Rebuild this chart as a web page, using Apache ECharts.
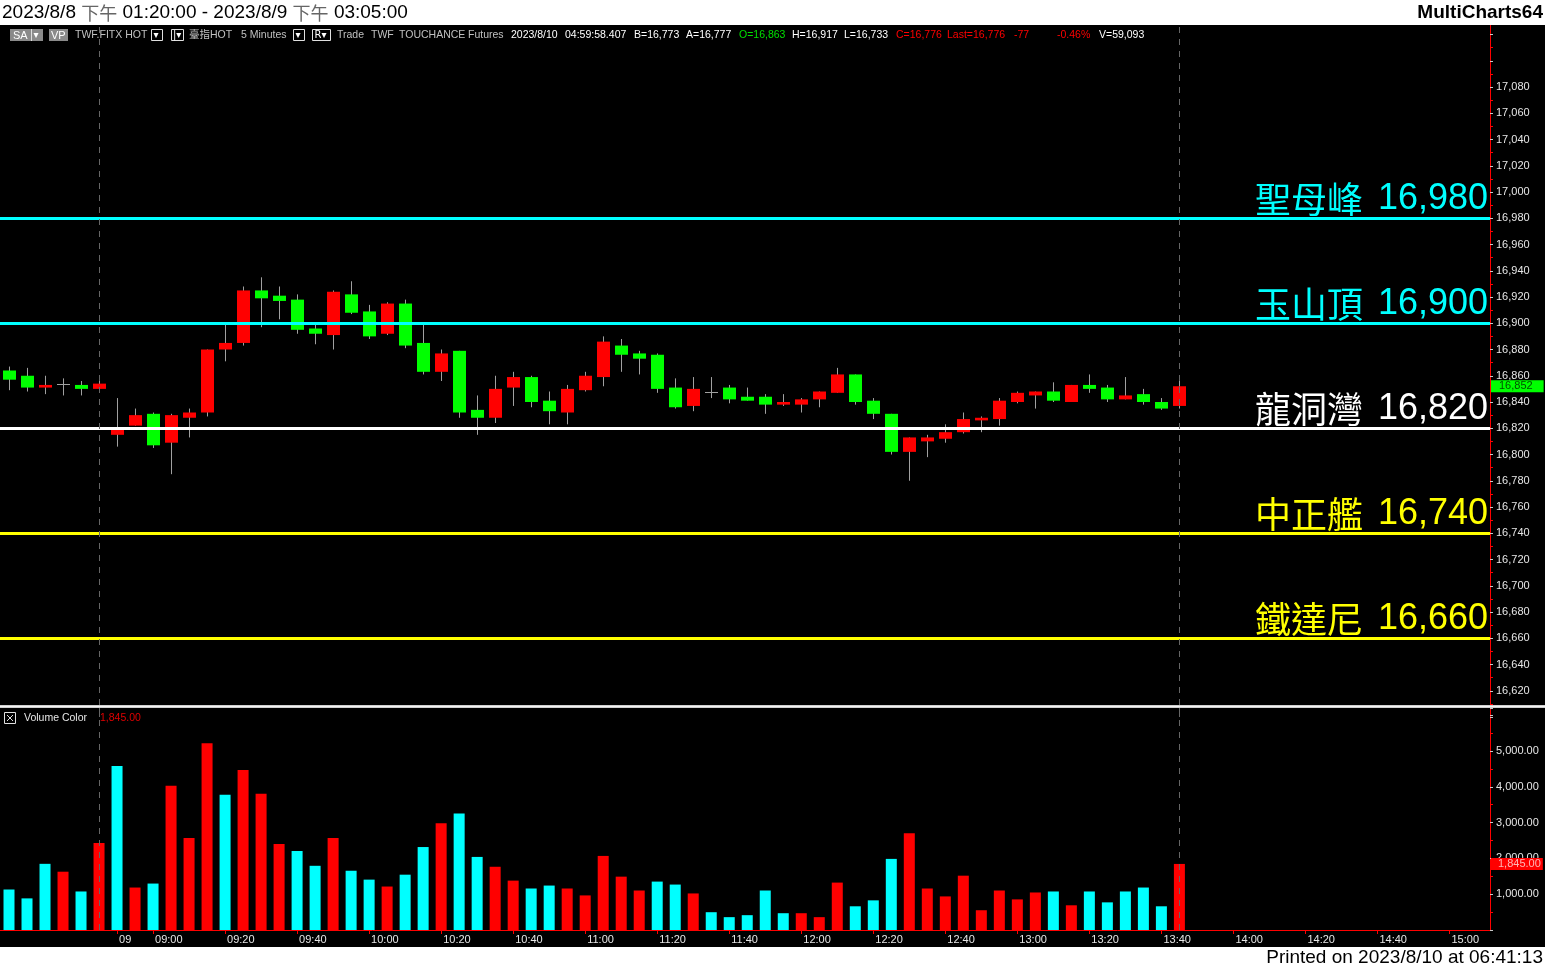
<!DOCTYPE html>
<html><head><meta charset="utf-8">
<script src="https://cdn.jsdelivr.net/npm/echarts@6/dist/echarts.min.js"></script>
<style>html,body{margin:0;padding:0;background:#000;overflow:hidden}#c{width:1545px;height:969px}</style>
</head><body><div id="c"></div>
<script>
// ---------- data ----------
const open  = [16864,16860,16851,16854,16853,16850,16815,16822,16831,16809,16828,16832,16880,16885,16925,16921,16918,16896,16891,16922,16909,16892,16915,16885,16863,16879,16834,16828,16851,16859,16841,16832,16849,16859,16883,16877,16876,16851,16837,16848,16851,16844,16844,16838,16838,16842,16847,16861,16841,16831,16802,16810,16812,16817,16826,16827,16840,16845,16848,16840,16853,16851,16842,16846,16840,16837];
const high  = [16867,16866,16860,16858,16856,16858,16843,16835,16832,16831,16835,16880,16899,16928,16935,16928,16922,16900,16925,16932,16914,16916,16918,16899,16880,16879,16845,16860,16863,16860,16848,16853,16863,16890,16888,16879,16877,16858,16859,16859,16853,16851,16846,16846,16843,16848,16866,16861,16843,16831,16813,16815,16823,16832,16829,16843,16848,16848,16855,16853,16861,16853,16859,16850,16843,16859];
const low   = [16849,16848,16846,16845,16845,16847,16806,16822,16805,16785,16813,16829,16871,16883,16897,16903,16892,16884,16880,16907,16888,16891,16881,16861,16856,16828,16815,16824,16837,16836,16823,16823,16848,16852,16863,16861,16847,16835,16833,16843,16839,16841,16831,16837,16832,16836,16847,16838,16827,16800,16780,16798,16809,16816,16817,16822,16839,16835,16840,16840,16847,16840,16842,16838,16834,16835];
const close = [16857,16851,16853,16854,16850,16854,16819,16830,16807,16830,16832,16880,16885,16925,16919,16917,16895,16892,16924,16908,16890,16915,16883,16863,16877,16832,16828,16850,16859,16840,16833,16850,16860,16886,16876,16873,16850,16836,16850,16848,16842,16841,16838,16840,16842,16848,16861,16840,16831,16802,16813,16813,16817,16827,16828,16841,16847,16848,16841,16853,16850,16842,16845,16840,16835,16852];
const volume = [1131,883,1848,1628,1076,2428,4579,1186,1297,4028,2566,5214,3779,4469,3807,2400,2207,1793,2566,1655,1407,1214,1545,2317,2979,3255,2041,1766,1379,1159,1241,1159,966,2069,1490,1103,1352,1269,1021,497,359,414,1103,469,469,359,1324,662,828,1986,2703,1159,938,1517,552,1103,855,1048,1076,690,1076,772,1076,1186,662,1845];
// 1 = up volume (red), -1 = down volume (cyan)
const volDir = [-1,-1,-1,1,-1,1,-1,1,-1,1, 1,1,-1,1,1,1,-1,-1,1,-1, -1,1,-1,-1,1,-1,-1,1,1,-1, -1,1,1,1,1,1,-1,-1,1,-1, -1,-1,-1,-1,1,1,1,-1,-1,-1, 1,1,1,1,1,1,1,1,-1,1, -1,-1,-1,-1,-1,1];
const lastPrice = 16852;
const levelNames  = ['聖母峰','玉山頂','龍洞灣','中正艦','鐵達尼'];
const levelValues = [16980,16900,16820,16740,16660];
// time axis: bar index of each tick and its text
const tickIndex = [6,8,12,16,20,24,28,32,36,40,44,48,52,56,60,64,68,72,76,80];
const tickText  = ['09','09:00','09:20','09:40','10:00','10:20','10:40','11:00','11:20','11:40','12:00','12:20','12:40','13:00','13:20','13:40','14:00','14:20','14:40','15:00'];
const sessionBreakIndex = 5;   // last bar of previous session
const currentBarIndex = 65;    // last bar

// ---------- style ----------
const UP = '#ff0000', DOWN = '#00ff00', WICK = '#a0a0a0';
const VUP = '#ff0000', VDOWN = '#00ffff';
const levelColors = ['#00ffff','#00ffff','#ffffff','#ffff00','#ffff00'];
const AX = '#ff0000', LBL = '#e6e6e6';
const fmt0 = v => Number(v).toLocaleString('en-US');
const fmt2 = v => Number(v).toLocaleString('en-US',{minimumFractionDigits:2,maximumFractionDigits:2});
const HIDDEN_LINE = {color:'rgba(0,0,0,0)', width:0};

const chart = echarts.init(document.getElementById('c'), null, {renderer:'canvas'});

function renderCandle(params, api){
  const i = api.value(0), o = api.value(1), c = api.value(2), l = api.value(3), h = api.value(4);
  const po = api.coord([i,o]), pc = api.coord([i,c]), pl = api.coord([i,l]), ph = api.coord([i,h]);
  const bw = Math.round(api.size([1,0])[0]*0.72);
  const cx = Math.floor(po[0]) + 0.5;
  const top = Math.min(po[1],pc[1]), bot = Math.max(po[1],pc[1]);
  const children = [{type:'line', shape:{x1:cx,y1:ph[1],x2:cx,y2:pl[1]}, style:{stroke:WICK,lineWidth:1}}];
  if (c === o) {
    const yy = Math.round(top)+0.5;
    children.push({type:'line', shape:{x1:cx-bw/2,y1:yy,x2:cx+bw/2,y2:yy}, style:{stroke:WICK,lineWidth:1}});
  } else {
    children.push({type:'rect', shape:{x:cx-bw/2, y:top, width:bw, height:Math.max(bot-top,1)}, style:{fill: c>o?UP:DOWN}});
  }
  return {type:'group', children};
}

const levelLines = levelValues.map((v,i)=>({
  yAxis: v,
  lineStyle:{color:levelColors[i], width:3, type:'solid'},
  label:{show:true, position:'insideEndTop', distance:[2,-1],
    formatter: () => '{n|'+levelNames[i]+'}{v|'+fmt0(v)+'}',
    rich:{
      n:{fontFamily:'Noto Sans CJK TC', fontSize:36, color:levelColors[i], lineHeight:40, padding:[0,15,0,0]},
      v:{fontFamily:'Liberation Sans', fontSize:36, color:levelColors[i], lineHeight:40}
    }}
}));

const vDash = (idx) => ({xAxis: idx, lineStyle:{color:'#666', width:1, type:[6,6]}, label:{show:false}});

const yAxisCommon = {
  type:'value', position:'right', splitLine:{show:false},
  axisLine:{show:true, onZero:false, lineStyle:{color:AX, width:1}},
  axisTick:{show:true, length:3, lineStyle:{color:'#c8c8c8'}},
  minorTick:{show:true, splitNumber:2, length:3, lineStyle:{color:AX}}
};

const option = {
  backgroundColor:'#000',
  animation:false,
  grid:[
    {left:0, top:8.25, width:1490, height:708.75},
    {left:0, top:708, width:1490, height:222}
  ],
  xAxis:[
    {type:'value', gridIndex:0, min:-0.5, max:82.25, show:false, splitLine:{show:false}},
    {type:'value', gridIndex:1, min:-0.5, max:82.25, splitLine:{show:false},
      axisLine:{show:true, onZero:false, lineStyle:{color:AX, width:1}},
      axisTick:{show:true, customValues:tickIndex, length:4, lineStyle:{color:AX}},
      axisLabel:{show:true, customValues:tickIndex, color:LBL, fontSize:11, fontFamily:'Liberation Sans',
        align:'left', margin:4, padding:[0,0,0,2],
        formatter:(v)=>{const k=tickIndex.indexOf(Math.round(v)); return k>=0?tickText[k]:'';}}}
  ],
  yAxis:[
    Object.assign({}, yAxisCommon, {gridIndex:0, min:16600, max:17140, interval:20,
      axisLabel:{color:LBL, fontSize:11, fontFamily:'Liberation Sans', margin:6,
        formatter:(v)=> (v<16620||v>17080)?'':fmt0(v)}}),
    Object.assign({}, yAxisCommon, {gridIndex:1, min:0, max:6200, interval:1000,
      axisLabel:{color:LBL, fontSize:11, fontFamily:'Liberation Sans', margin:6,
        formatter:(v)=> (v<=0||v>5000)?'':fmt2(v)}})
  ],
  series:[
    {type:'custom', xAxisIndex:0, yAxisIndex:0, renderItem:renderCandle,
      encode:{x:0, y:[1,2,3,4]},
      data: open.map((o,i)=>[i,o,close[i],low[i],high[i]]),
      markLine:{silent:true, symbol:'none', animation:false,
        data: levelLines.concat([
          vDash(sessionBreakIndex), vDash(currentBarIndex),
          {yAxis:lastPrice, lineStyle:HIDDEN_LINE,
            label:{show:true, position:'end', distance:1, formatter:()=>fmt0(lastPrice),
              backgroundColor:'#00ff00', color:'#005000', fontSize:11, fontFamily:'Liberation Sans',
              padding:[1,11,0,8]}}
        ])}
    },
    {type:'bar', xAxisIndex:1, yAxisIndex:1, barWidth:11,
      data: volume.map((v,i)=>({value:[i,v], itemStyle:{color: volDir[i]>0?VUP:VDOWN}})),
      markLine:{silent:true, symbol:'none', animation:false,
        data:[vDash(sessionBreakIndex), vDash(currentBarIndex),
          {yAxis:volume[volume.length-1], lineStyle:HIDDEN_LINE,
            label:{show:true, position:'end', distance:1, formatter:()=>fmt2(volume[volume.length-1]),
              backgroundColor:'#ff0000', color:'#ffb4b4', fontSize:11, fontFamily:'Liberation Sans',
              padding:[1,2,0,7]}}]}
    }
  ],
  graphic:[
    // title bar
    {type:'rect', z:100, shape:{x:0,y:0,width:1545,height:25}, style:{fill:'#fff'}},
    {type:'text', z:101, x:2, y:13, style:{text:'2023/8/8 {g|下午} 01:20:00 - 2023/8/9 {g|下午} 03:05:00',
      font:'19px "Liberation Sans"', fill:'#000', verticalAlign:'middle',
      rich:{g:{fontFamily:'Noto Sans CJK TC', fontSize:18, fill:'#666'}}}},
    {type:'text', z:101, x:1543, y:13, style:{text:'MultiCharts64', font:'bold 19px "Liberation Sans"', fill:'#000', align:'right', verticalAlign:'middle'}},
    // bottom strip
    {type:'rect', z:100, shape:{x:0,y:947,width:1545,height:22}, style:{fill:'#fff'}},
    {type:'text', z:101, x:1543, y:958, style:{text:'Printed on 2023/8/10 at 06:41:13', font:'19px "Liberation Sans"', fill:'#000', align:'right', verticalAlign:'middle'}},
    // pane separator
    {type:'rect', z:50, shape:{x:0,y:705,width:1545,height:3}, style:{fill:'#d0d0d0'}},
    {type:'rect', z:51, shape:{x:0,y:706,width:1545,height:1}, style:{fill:'#f4f4f4'}},
    // toolbar
    {type:'rect', z:60, shape:{x:10,y:29,width:33,height:12}, style:{fill:'#8a8a8a'}},
    {type:'line', z:61, shape:{x1:31.5,y1:29,x2:31.5,y2:41}, style:{stroke:'#dcdcdc'}},
    {type:'text', z:61, x:13, y:35.5, style:{text:'SA', font:'11px "Liberation Sans"', fill:'#fff', verticalAlign:'middle'}},
    {type:'text', z:61, x:33.5, y:35.5, style:{text:'▾', font:'10px "DejaVu Sans"', fill:'#fff', verticalAlign:'middle'}},
    {type:'rect', z:60, shape:{x:49,y:29,width:19,height:12}, style:{fill:'#8a8a8a'}},
    {type:'text', z:61, x:51, y:35.5, style:{text:'VP', font:'11px "Liberation Sans"', fill:'#fff', verticalAlign:'middle'}},
    {type:'text', z:61, x:75, y:35.5, style:{text:'TWF.FITX HOT', font:'10.5px "Liberation Sans"', fill:'#c0c0c0', verticalAlign:'middle'}},
    {type:'rect', z:60, shape:{x:151.5,y:29.5,width:11,height:11}, style:{fill:'#000', stroke:'#e0e0e0'}},
    {type:'text', z:61, x:153.5, y:35.5, style:{text:'▾', font:'10px "DejaVu Sans"', fill:'#fff', verticalAlign:'middle'}},
    {type:'rect', z:60, shape:{x:171.5,y:29.5,width:12,height:11}, style:{fill:'#000', stroke:'#e0e0e0'}},
    {type:'text', z:61, x:173, y:35.5, style:{text:'|▾', font:'10px "DejaVu Sans"', fill:'#fff', verticalAlign:'middle'}},
    {type:'text', z:61, x:189, y:35.5, style:{text:'臺指HOT', font:'10.5px "Liberation Sans","Noto Sans CJK TC"', fill:'#c0c0c0', verticalAlign:'middle'}},
    {type:'text', z:61, x:241, y:35.5, style:{text:'5 Minutes', font:'10.5px "Liberation Sans"', fill:'#c0c0c0', verticalAlign:'middle'}},
    {type:'rect', z:60, shape:{x:293.5,y:29.5,width:11,height:11}, style:{fill:'#000', stroke:'#e0e0e0'}},
    {type:'text', z:61, x:295.5, y:35.5, style:{text:'▾', font:'10px "DejaVu Sans"', fill:'#fff', verticalAlign:'middle'}},
    {type:'rect', z:60, shape:{x:312.5,y:29.5,width:18,height:11}, style:{fill:'#000', stroke:'#e0e0e0'}},
    {type:'text', z:61, x:314.5, y:35.5, style:{text:'R▾', font:'10px "DejaVu Sans"', fill:'#fff', verticalAlign:'middle'}},
    {type:'text', z:61, x:337, y:35.5, style:{text:'Trade', font:'10.5px "Liberation Sans"', fill:'#c0c0c0', verticalAlign:'middle'}},
    {type:'text', z:61, x:371, y:35.5, style:{text:'TWF', font:'10.5px "Liberation Sans"', fill:'#c0c0c0', verticalAlign:'middle'}},
    {type:'text', z:61, x:399, y:35.5, style:{text:'TOUCHANCE', font:'10.5px "Liberation Sans"', fill:'#c0c0c0', verticalAlign:'middle'}},
    {type:'text', z:61, x:468, y:35.5, style:{text:'Futures', font:'10.5px "Liberation Sans"', fill:'#c0c0c0', verticalAlign:'middle'}},
    {type:'text', z:61, x:511, y:35.5, style:{text:'2023/8/10', font:'10.5px "Liberation Sans"', fill:'#fff', verticalAlign:'middle'}},
    {type:'text', z:61, x:565, y:35.5, style:{text:'04:59:58.407', font:'10.5px "Liberation Sans"', fill:'#fff', verticalAlign:'middle'}},
    {type:'text', z:61, x:634, y:35.5, style:{text:'B=16,773', font:'10.5px "Liberation Sans"', fill:'#fff', verticalAlign:'middle'}},
    {type:'text', z:61, x:686, y:35.5, style:{text:'A=16,777', font:'10.5px "Liberation Sans"', fill:'#fff', verticalAlign:'middle'}},
    {type:'text', z:61, x:739, y:35.5, style:{text:'O=16,863', font:'10.5px "Liberation Sans"', fill:'#00e000', verticalAlign:'middle'}},
    {type:'text', z:61, x:792, y:35.5, style:{text:'H=16,917', font:'10.5px "Liberation Sans"', fill:'#fff', verticalAlign:'middle'}},
    {type:'text', z:61, x:844, y:35.5, style:{text:'L=16,733', font:'10.5px "Liberation Sans"', fill:'#fff', verticalAlign:'middle'}},
    {type:'text', z:61, x:896, y:35.5, style:{text:'C=16,776', font:'10.5px "Liberation Sans"', fill:'#ff0000', verticalAlign:'middle'}},
    {type:'text', z:61, x:947, y:35.5, style:{text:'Last=16,776', font:'10.5px "Liberation Sans"', fill:'#ff0000', verticalAlign:'middle'}},
    {type:'text', z:61, x:1014, y:35.5, style:{text:'-77', font:'10.5px "Liberation Sans"', fill:'#ff0000', verticalAlign:'middle'}},
    {type:'text', z:61, x:1057, y:35.5, style:{text:'-0.46%', font:'10.5px "Liberation Sans"', fill:'#ff0000', verticalAlign:'middle'}},
    {type:'text', z:61, x:1099, y:35.5, style:{text:'V=59,093', font:'10.5px "Liberation Sans"', fill:'#fff', verticalAlign:'middle'}},
    // volume pane header
    {type:'rect', z:60, shape:{x:4.5,y:712.5,width:11,height:11}, style:{fill:'#000', stroke:'#e0e0e0'}},
    {type:'line', z:61, shape:{x1:7,y1:715,x2:13,y2:721}, style:{stroke:'#e0e0e0'}},
    {type:'line', z:61, shape:{x1:13,y1:715,x2:7,y2:721}, style:{stroke:'#e0e0e0'}},
    {type:'text', z:61, x:24, y:718.5, style:{text:'Volume Color', font:'10.5px "Liberation Sans"', fill:'#e6e6e6', verticalAlign:'middle'}},
    {type:'text', z:61, x:100, y:718.5, style:{text:'1,845.00', font:'10.5px "Liberation Sans"', fill:'#e00000', verticalAlign:'middle'}}
  ]
};
chart.setOption(option);
</script>
</body></html>
